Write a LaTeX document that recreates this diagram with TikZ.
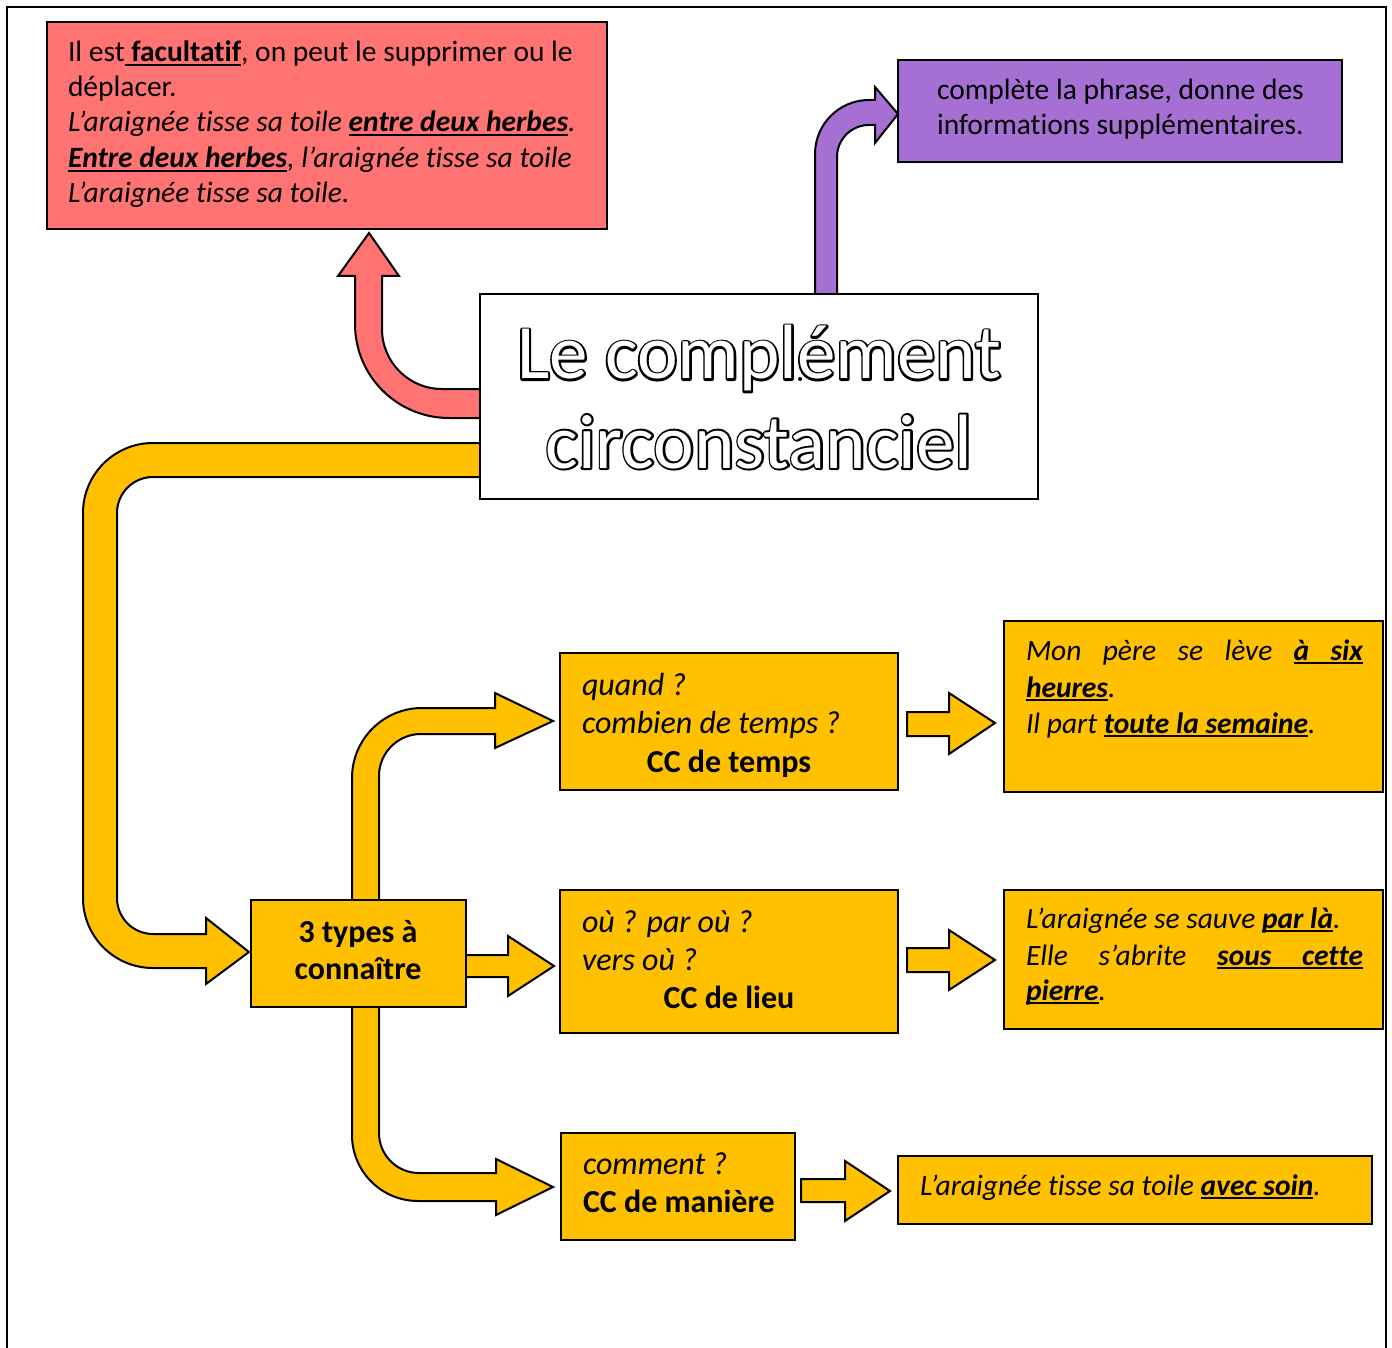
\documentclass[tikz,border=0pt]{standalone}
\usepackage{fontspec}
\setmainfont[Ligatures=NoCommon]{Carlito}
\usetikzlibrary{backgrounds}
\newdimen\px \px=0.5pt
\newcommand\bodyfont{\fontsize{14.75pt}{18pt}\selectfont}
\newcommand\bigfont{\fontsize{16pt}{19pt}\selectfont}
\newcommand\titlefont{\fontsize{38.5pt}{45pt}\selectfont}
\newcommand\myul[1]{\setbox0\hbox{#1}\rlap{\rule[-4\px]{\wd0}{2\px}}\box0}
\newcommand\ulfill{\leaders\hrule height -2\px depth 4\px\hfill}
\newcommand\outlined[1]{\rlap{\special{pdf:literal direct 0 0 0 RG 2 w 1 j 1 J 1 Tr}#1\special{pdf:literal direct 0 Tr}}{\color{white}#1}}
\definecolor{cyel}{HTML}{FFC000}
\definecolor{cred}{HTML}{FF7373}
\definecolor{cpur}{HTML}{A66FD4}
\tikzset{
  box/.style={draw=black, line width=1.2pt, anchor=north west, inner sep=0, outer sep=0},
  txt/.style={anchor=base west, inner sep=0, outer sep=0, font=\bodyfont},
  btxt/.style={anchor=base west, inner sep=0, outer sep=0, font=\bigfont},
  cbtxt/.style={anchor=base, inner sep=0, outer sep=0, font=\bigfont},
  arr/.style={draw=black, line width=1pt, line join=miter},
}
\begin{document}
\begin{tikzpicture}[x=0.5pt, y=-0.5pt]
\useasboundingbox (0,0) rectangle (1392,1348);
% frame
\draw[line width=1pt] (7,1348) -- (7,7) -- (1386,7) -- (1386,1348);

% boxes
\node[box, fill=cred, minimum width=280pt, minimum height=103.5pt] (red) at (47,22) {};
\node[box, fill=white, minimum width=279pt, minimum height=102.5pt] (title) at (480,294) {};
\node[box, fill=cpur, minimum width=222pt, minimum height=51pt] (purple) at (898,60) {};
\node[box, fill=cyel, minimum width=169pt, minimum height=68.5pt] (temps) at (560,653) {};
\node[box, fill=cyel, minimum width=189.5pt, minimum height=85.5pt] (ex1) at (1004,621) {};
\node[box, fill=cyel, minimum width=169pt, minimum height=71.5pt] (lieu) at (560,890) {};
\node[box, fill=cyel, minimum width=189.5pt, minimum height=69.5pt] (ex2) at (1004,890) {};
\node[box, fill=cyel, minimum width=107.5pt, minimum height=53.5pt] (types) at (251,900) {};
\node[box, fill=cyel, minimum width=117pt, minimum height=53.5pt] (maniere) at (561,1133) {};
\node[box, fill=cyel, minimum width=237pt, minimum height=34pt] (ex3) at (898,1156) {};

% red box text
\node[txt] (r1) at (68,62) {Il est\myul{ \textbf{facultatif}}, on peut le supprimer ou le};
\node[txt] (r2) at (68,97) {déplacer.};
\node[txt] (r3) at (68,132) {\itshape L’araignée tisse sa toile \myul{\textbf{entre deux herbes}}.};
\node[txt] (r4) at (68,168) {\itshape \myul{\textbf{Entre deux herbes}}, l’araignée tisse sa toile};
\node[txt] (r5) at (68,203) {\itshape L’araignée tisse sa toile.};

% purple text
\node[txt] (p1) at (937,100) {complète la phrase, donne des};
\node[txt] (p2) at (937,135) {informations supplémentaires.};

% title
\node[anchor=base, inner sep=0, font=\titlefont] (t1) at (759,379) {\outlined{Le complément}};
\node[anchor=base, inner sep=0, font=\titlefont] (t2) at (759,468) {\outlined{circonstanciel}};

% types
\node[cbtxt] (ty1) at (358,942) {\bfseries 3 types à};
\node[cbtxt] (ty2) at (358,979) {\bfseries connaître};

% temps
\node[btxt] (te1) at (582,695) {\itshape quand ?};
\node[btxt] (te2) at (582,733) {\itshape combien de temps ?};
\node[cbtxt] (te3) at (729,772) {\bfseries CC de temps};

% ex1
\node[txt] (e11) at (1026,660) {\itshape\hbox to 337\px{Mon\hfill père\hfill se\hfill lève\hfill\myul{\textbf{à}}\ulfill\myul{\textbf{six}}}};
\node[txt] (e12) at (1026,697) {\itshape \myul{\textbf{heures}}.};
\node[txt] (e13) at (1026,733) {\itshape Il part \myul{\textbf{toute la semaine}}.};

% lieu
\node[btxt] (l1) at (582,932) {\itshape où ? par où ?};
\node[btxt] (l2) at (582,970) {\itshape vers où ?};
\node[cbtxt] (l3) at (729,1008) {\bfseries CC de lieu};

% ex2
\node[txt] (e21) at (1026,928) {\itshape L’araignée se sauve \myul{\textbf{par là}}.};
\node[txt] (e22) at (1026,965) {\itshape\hbox to 337\px{Elle\hfill s’abrite\hfill\myul{\textbf{sous}}\ulfill\myul{\textbf{cette}}}};
\node[txt] (e23) at (1026,1000) {\itshape \myul{\textbf{pierre}}.};

% maniere
\node[btxt] (m1) at (583,1174) {\itshape comment ?};
\node[btxt] (m2) at (583,1212) {\bfseries CC de manière};

% ex3
\node[txt] (e31) at (920,1195) {\itshape L’araignée tisse sa toile \myul{\textbf{avec soin}}.};

\begin{pgfonlayer}{background}
% red arrow
\draw[arr, fill=cred] (485,389) [rounded corners=30pt] -- (382,389) [sharp corners] -- (382,276) -- (399,276) -- (369,233) -- (338,276) -- (355,276) [rounded corners=47pt] -- (355,418) [sharp corners] -- (485,418) -- cycle;
% purple arrow
\draw[arr, fill=cpur] (815,299) [rounded corners=27pt] -- (815,100) [sharp corners] -- (875,100) -- (875,87) -- (898,114) -- (875,143) -- (875,125) [rounded corners=16pt] -- (837,125) [sharp corners] -- (837,299) -- cycle;
% big yellow arrow
\draw[arr, fill=cyel] (485,443) [rounded corners=35pt] -- (83,443) -- (83,968) [sharp corners] -- (206,968) -- (206,984) -- (249,952) -- (206,918) -- (206,934) [rounded corners=18pt] -- (117,934) -- (117,477) [sharp corners] -- (485,477) -- cycle;
% up arrow
\draw[arr, fill=cyel] (352,905) [rounded corners=35pt] -- (352,708) [sharp corners] -- (495,708) -- (495,693) -- (553,721) -- (495,748) -- (495,734) [rounded corners=21pt] -- (379,734) [sharp corners] -- (379,905) -- cycle;
% right arrow
\draw[arr, fill=cyel] (461,955) -- (508,955) -- (508,936) -- (554,966) -- (508,996) -- (508,977) -- (461,977) -- cycle;
% down arrow
\draw[arr, fill=cyel] (379,1002) [rounded corners=20pt] -- (379,1173) [sharp corners] -- (496,1173) -- (496,1159) -- (553,1187) -- (496,1215) -- (496,1201) [rounded corners=33pt] -- (352,1201) [sharp corners] -- (352,1002) -- cycle;
\end{pgfonlayer}

% small arrows
\draw[arr, fill=cyel] (907,712) -- (949,712) -- (949,693) -- (995,723) -- (949,754) -- (949,736) -- (907,736) -- cycle;
\draw[arr, fill=cyel] (907,948) -- (949,948) -- (949,930) -- (995,960) -- (949,990) -- (949,972) -- (907,972) -- cycle;
\draw[arr, fill=cyel] (801,1179) -- (845,1179) -- (845,1161) -- (890,1191) -- (845,1221) -- (845,1202) -- (801,1202) -- cycle;
\end{tikzpicture}
\end{document}
